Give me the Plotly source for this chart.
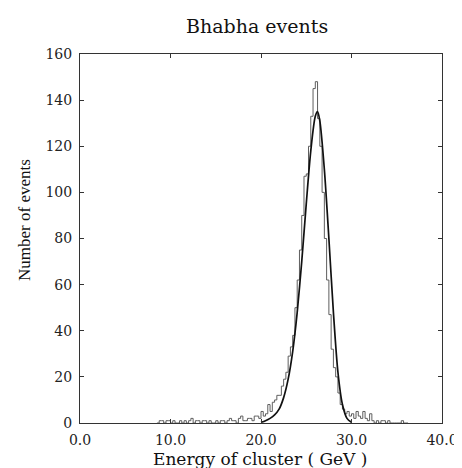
import plotly.graph_objects as go

# Histogram: bin left edges (GeV) and counts, bins of 0.25 GeV
bin_width = 0.25
bin_start = 8.5
counts = [
    0, 1, 1, 0, 1, 1, 0, 1, 0, 0,      # 8.50 - 10.75
    1, 0, 1, 0, 1, 2, 0, 1, 1, 0,      # 11.00 - 13.25
    1, 1, 0, 1, 0, 0, 1, 0, 1, 1,      # 13.50 - 15.75
    0, 1, 2, 1, 1, 0, 2, 3, 1, 1,      # 16.00 - 18.25
    2, 2, 1, 3, 3, 2, 5, 3, 4, 8,      # 18.50 - 20.75
    5, 9, 10, 12, 12, 16, 19, 22, 29, 33,   # 21.00 - 23.25
    38, 50, 62, 75, 90, 107, 108, 120, 133, 145,  # 23.50 - 25.75
    148, 132, 120, 100, 80, 62, 47, 32, 24, 20,   # 26.00 - 28.25
    13, 8, 6, 4, 5, 3, 4, 2, 5, 3,     # 28.50 - 30.75
    2, 5, 2, 1, 4, 1, 0, 1, 0, 1,      # 31.00 - 33.25
    1, 0, 1, 0, 0, 0, 0, 0, 1, 0,      # 33.50 - 35.75
    0,                                  # 36.00
]

# Fit curve (GeV, events)
fit_x = [20.0, 20.5, 21.0, 21.5, 22.0, 22.5, 23.0, 23.5, 24.0, 24.5, 25.0,
         25.5, 26.0, 26.25, 26.5, 27.0, 27.5, 28.0, 28.5, 29.0, 29.5, 30.0]
fit_y = [0.3, 1.0, 2.0, 3.5, 6.0, 11.0, 19.0, 31.0, 48.0, 70.0, 95.0,
         118.0, 133.0, 135.0, 131.0, 110.0, 80.0, 48.0, 22.0, 8.0, 2.0, 0.3]

x_ticks = [0, 10, 20, 30, 40]
y_ticks = [0, 20, 40, 60, 80, 100, 120, 140, 160]

title_text = "Bhabha events"
x_title = "Energy of cluster ( GeV )"
y_title = "Number of events"

# build step outline
hx = [bin_start + i * bin_width for i in range(len(counts))]
hx.append(bin_start + len(counts) * bin_width)
hy = list(counts) + [counts[-1]]

fig = go.Figure()
fig.add_trace(go.Scatter(x=hx, y=hy, mode="lines", line_shape="hv",
                         line=dict(color="#5e5e5e", width=1), hoverinfo="skip",
                         showlegend=False))
fig.add_trace(go.Scatter(x=fit_x, y=fit_y, mode="lines", line_shape="spline",
                         line=dict(color="#111111", width=1.7, smoothing=0.8),
                         showlegend=False))

serif = "DejaVu Serif"
axis_common = dict(showline=True, linecolor="#333333", linewidth=1, mirror="ticks",
                   ticks="inside", ticklen=4, tickcolor="#333333", showgrid=False,
                   zeroline=False, tickfont=dict(family=serif, size=14, color="#222222"),
                   ticklabelstandoff=4)

fig.update_xaxes(range=[0, 40], tickvals=x_ticks, tickformat=".1f", **axis_common)
fig.update_yaxes(range=[0, 160], tickvals=y_ticks, **axis_common)

fig.update_layout(
    width=462, height=468,
    margin=dict(l=72, r=23, t=46, b=53),
    plot_bgcolor="white", paper_bgcolor="white",
    annotations=[
        dict(text=title_text, xref="paper", yref="paper", x=0.49, y=1.075,
             xanchor="center", yanchor="middle", showarrow=False,
             font=dict(family=serif, size=19, color="#111111")),
        dict(text=x_title, xref="paper", yref="paper", x=0.4986, y=-0.098,
             xanchor="center", yanchor="middle", showarrow=False,
             font=dict(family=serif, size=17, color="#111111")),
        dict(text=y_title, xref="paper", yref="paper", x=-0.155, y=0.55,
             xanchor="center", yanchor="middle", showarrow=False, textangle=-90,
             font=dict(family="Liberation Serif", size=17, color="#111111")),
    ],
)

fig.write_html("out.html")
